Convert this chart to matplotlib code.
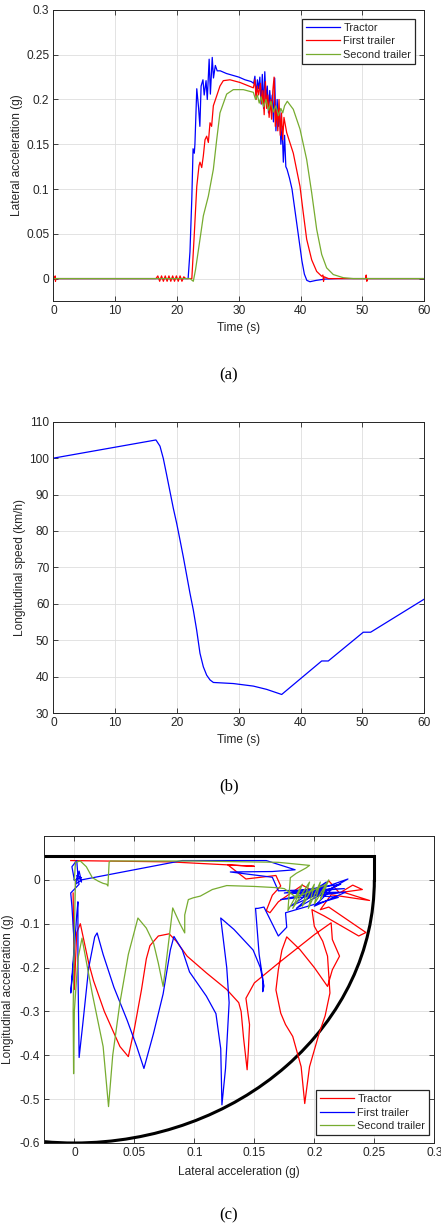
"""
plot.py

Lateral acceleration, longitudinal speed and g-g diagram of a
tractor with two trailers.
"""

import matplotlib
matplotlib.use("Agg")
import matplotlib.pyplot as plt
from matplotlib.patches import Arc
from matplotlib.ticker import FormatStrFormatter

plt.rcParams["font.family"] = ["Liberation Sans", "DejaVu Sans"]
plt.rcParams["axes.unicode_minus"] = False

BLUE = "#0000ff"
RED = "#ff0000"
GREEN = "#77ac30"
DARK = "#262626"
FS = 8.6
FS_LEG = 7.8

# ---- (a) lateral acceleration vs time ----
tractor_t = [0, 21.8, 22.1, 22.4, 22.6, 22.8, 22.9, 23.2, 23.5, 23.7, 23.9, 24.2,
             24.4, 24.7, 24.9, 25.2, 25.4, 25.7, 25.9, 26.2, 26.5, 27, 28, 29, 30,
             31, 32, 32.4, 32.6, 32.8, 33.0, 33.2, 33.4, 33.6, 33.8, 34.0, 34.2,
             34.4, 34.6, 34.8, 35.0, 35.2, 35.4, 35.6, 35.8, 36.0, 36.2, 36.4,
             36.6, 36.8, 37.0, 37.2, 37.4, 37.6, 37.8, 38.2, 38.6, 39.0, 39.4,
             39.8, 40.2, 40.6, 41.0, 41.5, 42.5, 44, 46, 60]
tractor_ay = [0, 0, 0.03, 0.09, 0.145, 0.14, 0.15, 0.212, 0.19, 0.17, 0.215, 0.222,
              0.205, 0.221, 0.2, 0.245, 0.206, 0.247, 0.224, 0.238, 0.232, 0.232,
              0.229, 0.227, 0.225, 0.222, 0.22, 0.218, 0.226, 0.205, 0.222, 0.212,
              0.225, 0.195, 0.228, 0.19, 0.231, 0.2, 0.215, 0.185, 0.21, 0.19,
              0.205, 0.175, 0.224, 0.165, 0.2, 0.17, 0.19, 0.15, 0.17, 0.13, 0.16,
              0.125, 0.122, 0.112, 0.1, 0.08, 0.06, 0.04, 0.02, 0.005, -0.002,
              -0.0035, -0.002, -0.0005, 0, 0]

first_t = [0, 0.25, 0.3, 0.35, 0.4, 16.6, 16.9, 17.2, 17.5, 17.8, 18.1, 18.4, 18.7,
           19.0, 19.3, 19.6, 19.9, 20.2, 20.5, 20.8, 21.1, 21.4, 22.4, 22.8, 23.2,
           23.56, 23.72, 24.0, 24.26, 24.53, 24.8, 25.07, 25.34, 25.6, 25.88,
           26.42, 26.95, 27.49, 28.57, 30.19, 32.35, 32.6, 32.8, 33.0, 33.2, 33.5,
           33.7, 33.9, 34.1, 34.3, 34.5, 34.7, 34.9, 35.1, 35.3, 35.5, 35.7, 35.9,
           36.1, 36.3, 36.5, 36.7, 36.9, 37.1, 37.3, 37.74, 38.81, 39.89, 40.43,
           40.97, 41.78, 42.59, 43.4, 43.6, 43.7, 43.8, 44.5, 50.5, 50.6, 50.7,
           50.8, 60]
first_ay = [0, 0, 0.003, -0.003, 0, 0, 0.003, -0.003, 0.003, -0.003, 0.003, -0.003,
            0.003, -0.003, 0.003, -0.003, 0.003, -0.003, 0.003, -0.003, 0.002, 0,
            0, 0.05, 0.103, 0.126, 0.13, 0.124, 0.137, 0.155, 0.159, 0.152, 0.174,
            0.17, 0.193, 0.204, 0.215, 0.221, 0.222, 0.219, 0.213, 0.222, 0.2,
            0.215, 0.205, 0.218, 0.195, 0.21, 0.183, 0.22, 0.19, 0.205, 0.18, 0.2,
            0.178, 0.21, 0.225, 0.17, 0.19, 0.165, 0.2, 0.16, 0.185, 0.155, 0.18,
            0.163, 0.14, 0.103, 0.073, 0.044, 0.021, 0.008, 0.0026, 0.004, -0.003,
            0.002, 0, 0, 0.004, -0.003, 0, 0]

second_t = [0, 22.1, 22.64, 23.0, 23.72, 24.26, 25.07, 25.88, 26.42, 26.95, 28.03,
            29.11, 30.73, 32.35, 32.7, 33.0, 33.3, 33.6, 34.0, 34.4, 34.8, 35.2,
            35.6, 36.0, 36.4, 36.8, 37.1, 37.4, 37.84, 38.81, 39.89, 40.97, 41.78,
            42.59, 43.4, 44.2, 45.28, 46.9, 48.5, 60]
second_ay = [0, 0, -0.003, 0.01, 0.044, 0.07, 0.092, 0.122, 0.155, 0.185, 0.206,
             0.211, 0.211, 0.208, 0.2, 0.205, 0.196, 0.203, 0.192, 0.2, 0.188,
             0.198, 0.186, 0.193, 0.182, 0.19, 0.185, 0.193, 0.198, 0.189, 0.167,
             0.133, 0.096, 0.055, 0.027, 0.012, 0.0045, 0.001, 0, 0]

# ---- (b) longitudinal speed vs time ----
speed_t = [0, 16.6, 17.25, 17.79, 18.33, 18.87, 19.41, 19.95, 20.49, 21.02, 21.56,
           22.1, 22.64, 23.18, 23.72, 24.26, 24.8, 25.34, 25.88, 26.95, 29.11,
           32.35, 34.5, 36.93, 43.4, 44.47, 50.13, 51.32, 60]
speed_kmh = [100, 105, 103.3, 99.9, 95.4, 90.8, 86.2, 82.1, 77.5, 72.9, 67.9, 62.9,
             58.3, 52.8, 46.4, 42.7, 40.4, 39.1, 38.4, 38.3, 38.1, 37.4, 36.5,
             35.1, 44.3, 44.3, 52.2, 52.2, 61.3]

# ---- (c) g-g diagram ----
tractor_lat = [-0.003, 0.08, 0.15, 0.128, 0.143, 0.168, 0.172, 0.165, 0.16, 0.163,
               0.17, 0.19, 0.203, 0.212, 0.221, 0.232, 0.24, 0.224, 0.246, 0.214,
               0.205, 0.212, 0.243, 0.237, 0.208, 0.198, 0.2, 0.207, 0.211, 0.213,
               0.209, 0.204, 0.196, 0.192, 0.189, 0.182, 0.176, 0.172, 0.168, 0.17,
               0.173, 0.177, 0.188, 0.2, 0.211, 0.215, 0.221, 0.215, 0.214, 0.2,
               0.17, 0.15, 0.143, 0.146, 0.145, 0.144, 0.141, 0.139, 0.137, 0.127,
               0.11, 0.094, 0.085, 0.079, 0.07, 0.063, 0.06, 0.056, 0.05, 0.045,
               0.038, 0.025, 0.016, 0.012, 0.005, 0.002, 0.0, -0.001]
tractor_long = [0.044, 0.041, 0.031, 0.034, 0.002, 0.01, -0.014, -0.035, -0.07,
                -0.075, -0.05, -0.012, -0.032, -0.002, -0.03, -0.012, -0.022, -0.028,
                -0.047, -0.034, -0.068, -0.062, -0.12, -0.128, -0.082, -0.068,
                -0.106, -0.14, -0.174, -0.258, -0.31, -0.35, -0.426, -0.51, -0.426,
                -0.357, -0.33, -0.304, -0.251, -0.205, -0.16, -0.13, -0.159, -0.2,
                -0.243, -0.205, -0.174, -0.136, -0.098, -0.125, -0.19, -0.235,
                -0.27, -0.33, -0.39, -0.433, -0.36, -0.3, -0.28, -0.25, -0.212,
                -0.174, -0.14, -0.123, -0.128, -0.15, -0.18, -0.25, -0.34, -0.403,
                -0.38, -0.3, -0.23, -0.19, -0.1, -0.12, -0.25, -0.03]

first_lat = [0.0, -0.002, 0.002, 0.003, 0.006, 0.004, 0.001, 0.006, 0.09, 0.16,
             0.184, 0.165, 0.13, 0.165, 0.17, 0.225, 0.175, 0.222, 0.18, 0.21, 0.185,
             0.228, 0.19, 0.22, 0.172, 0.215, 0.2, 0.226, 0.18, 0.22, 0.176, 0.177,
             0.17, 0.164, 0.158, 0.153, 0.151, 0.154, 0.157, 0.157, 0.158, 0.155,
             0.149, 0.133, 0.122, 0.123, 0.127, 0.129, 0.126, 0.123, 0.122, 0.118,
             0.11, 0.096, 0.09, 0.083, 0.08, 0.074, 0.066, 0.058, 0.052, 0.044,
             0.033, 0.024, 0.019, 0.017, 0.012, 0.007, 0.004, 0.003, 0.003, 0.002,
             -0.001, -0.003, 0.0, -0.002, -0.003, 0.004, 0.002, 0.006, 0.0]
first_long = [0.0, 0.03, 0.044, 0.01, -0.005, 0.02, -0.01, 0.0, 0.044, 0.044,
              0.023, 0.019, 0.018, 0.006, -0.025, -0.02, -0.03, -0.01, -0.06,
              -0.005, -0.065, 0.002, -0.035, -0.03, -0.045, -0.02, -0.06, -0.028,
              -0.03, -0.04, -0.075, -0.108, -0.128, -0.095, -0.062, -0.065, -0.065,
              -0.17, -0.225, -0.255, -0.242, -0.2, -0.16, -0.113, -0.087, -0.11,
              -0.2, -0.28, -0.43, -0.513, -0.385, -0.305, -0.265, -0.21, -0.16,
              -0.129, -0.16, -0.26, -0.35, -0.43, -0.38, -0.32, -0.245, -0.17,
              -0.121, -0.13, -0.2, -0.33, -0.405, -0.2, -0.05, -0.08, -0.2, -0.258,
              -0.15, -0.06, -0.03, -0.01, 0.01, 0.005, 0.0]

second_lat = [0.0, 0.001, 0.005, 0.01, 0.015, 0.02, 0.024, 0.027, 0.028, 0.029,
              0.03, 0.1, 0.17, 0.196, 0.193, 0.185, 0.18, 0.178, 0.19, 0.182, 0.196,
              0.19, 0.2, 0.195, 0.205, 0.2, 0.212, 0.205, 0.21, 0.185, 0.175, 0.17,
              0.15, 0.127, 0.115, 0.105, 0.099, 0.095, 0.092, 0.092, 0.088, 0.082,
              0.08, 0.076, 0.074, 0.07, 0.066, 0.06, 0.053, 0.045, 0.038, 0.032,
              0.0285, 0.024, 0.015, 0.0064, 0.003, 0.0, -0.0006, -0.001, 0.0, 0.001]
second_long = [0.0, 0.04, 0.043, 0.03, 0.005, -0.003, -0.008, -0.01, -0.014, 0.04,
               0.043, 0.043, 0.04, 0.033, 0.027, 0.015, 0.005, -0.07, -0.01, -0.065,
               -0.005, -0.06, -0.01, -0.065, -0.005, -0.055, 0.0, -0.045, -0.01,
               -0.04, -0.02, -0.018, -0.015, -0.013, -0.022, -0.037, -0.041,
               -0.045, -0.08, -0.121, -0.1, -0.064, -0.11, -0.2, -0.243, -0.19,
               -0.144, -0.11, -0.087, -0.17, -0.28, -0.4, -0.517, -0.38, -0.26,
               -0.133, -0.18, -0.3, -0.442, -0.3, -0.12, 0.0]

# friction limit of the g-g diagram
limit_lat = 0.25
limit_brake = 0.6
limit_top = 0.055


def format_axes(ax):
    """
    MATLAB-like look: box, inner ticks on all sides and light grid.
    """
    ax.grid(True, color="#dedede", linewidth=0.6)
    ax.set_axisbelow(True)
    ax.tick_params(direction="in", top=True, right=True, length=3.5, width=0.6,
                   colors=DARK, labelsize=FS, pad=3)
    for spine in ax.spines.values():
        spine.set_color(DARK)
        spine.set_linewidth(0.7)


def legend(ax, lines, labels, anchor, loc):
    leg = ax.legend(lines, labels, loc=loc, bbox_to_anchor=anchor,
                    bbox_transform=ax.figure.transFigure, borderaxespad=0,
                    fontsize=FS_LEG, handlelength=3.1, handletextpad=0.35,
                    labelspacing=0.32, borderpad=0.35, fancybox=False,
                    framealpha=1)
    leg.get_frame().set_edgecolor(DARK)
    leg.get_frame().set_linewidth(0.9)
    for txt in leg.get_texts():
        txt.set_color(DARK)


fig = plt.figure(figsize=(4.41, 12.26), dpi=100)

# (a)
ax1 = fig.add_axes([0.1209, 0.7545, 0.8413, 0.2374])
l1, = ax1.plot(tractor_t, tractor_ay, color=BLUE, lw=0.9)
l2, = ax1.plot(first_t, first_ay, color=RED, lw=0.9)
l3, = ax1.plot(second_t, second_ay, color=GREEN, lw=0.9)
ax1.set_xlim(0, 60)
ax1.set_ylim(-0.025, 0.3)
ax1.set_xticks(range(0, 61, 10))
ax1.set_yticks([0, 0.05, 0.1, 0.15, 0.2, 0.25, 0.3])
ax1.yaxis.set_major_formatter(FormatStrFormatter("%g"))
format_axes(ax1)
ax1.set_xlabel("Time (s)", fontsize=FS, color=DARK)
ax1.set_ylabel("Lateral acceleration (g)", fontsize=FS, color=DARK)
ax1.xaxis.set_label_coords(0.5, -0.072)
ax1.yaxis.set_label_coords(-0.083, 0.5)
legend(ax1, [l1, l2, l3], ["Tractor", "First trailer", "Second trailer"],
       (415 / 441, 1 - 19 / 1226), "upper right")

# (b)
ax2 = fig.add_axes([0.1209, 0.4184, 0.8413, 0.2376])
ax2.plot(speed_t, speed_kmh, color=BLUE, lw=0.9)
ax2.set_xlim(0, 60)
ax2.set_ylim(30, 110)
ax2.set_xticks(range(0, 61, 10))
ax2.set_yticks(range(30, 111, 10))
format_axes(ax2)
ax2.set_xlabel("Time (s)", fontsize=FS, color=DARK)
ax2.set_ylabel("Longitudinal speed (km/h)", fontsize=FS, color=DARK)
ax2.xaxis.set_label_coords(0.5, -0.072)
ax2.yaxis.set_label_coords(-0.074, 0.5)

# (c)
ax3 = fig.add_axes([0.1005, 0.0677, 0.8844, 0.2504])
ax3.add_patch(Arc((0, 0), 2 * limit_lat, 2 * limit_brake, theta1=180, theta2=360,
                  color="black", lw=2.2))
ax3.plot([-0.03, limit_lat, limit_lat], [limit_top, limit_top, 0],
         color="black", lw=2.2, solid_joinstyle="miter")
c1, = ax3.plot(tractor_lat, tractor_long, color=RED, lw=0.9)
c2, = ax3.plot(first_lat, first_long, color=BLUE, lw=0.9)
c3, = ax3.plot(second_lat, second_long, color=GREEN, lw=0.9)
ax3.set_xlim(-0.025, 0.3)
ax3.set_ylim(-0.6, 0.1)
ax3.set_xticks([0, 0.05, 0.1, 0.15, 0.2, 0.25, 0.3])
ax3.set_yticks([-0.6, -0.5, -0.4, -0.3, -0.2, -0.1, 0])
ax3.xaxis.set_major_formatter(FormatStrFormatter("%g"))
ax3.yaxis.set_major_formatter(FormatStrFormatter("%g"))
format_axes(ax3)
ax3.set_xlabel("Lateral acceleration (g)", fontsize=FS, color=DARK)
ax3.set_ylabel("Longitudinal acceleration (g)", fontsize=FS, color=DARK)
ax3.xaxis.set_label_coords(0.5, -0.074)
ax3.yaxis.set_label_coords(-0.077, 0.5)
legend(ax3, [c1, c2, c3], ["Tractor", "First trailer", "Second trailer"],
       (429 / 441, 1 - 1135 / 1226), "lower right")

# captions under each panel
for y, tag in [(375, "(a)"), (786, "(b)"), (1215, "(c)")]:
    fig.text(229 / 441, 1 - y / 1226, tag, ha="center", va="center",
             fontsize=12, family=["Liberation Serif", "DejaVu Serif"], color="black")

fig.savefig("out.png", dpi=100)
plt.close(fig)
